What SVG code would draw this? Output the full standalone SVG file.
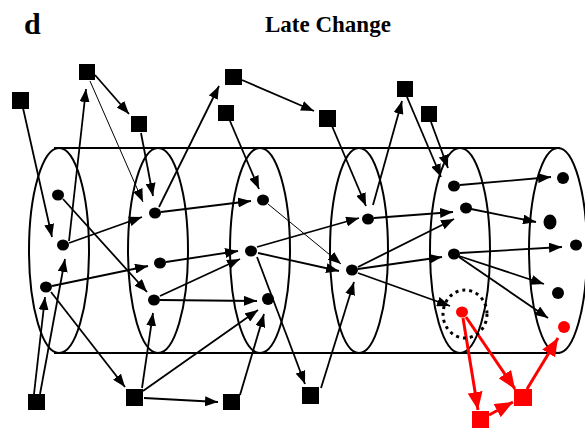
<svg xmlns="http://www.w3.org/2000/svg" width="585" height="432" viewBox="0 0 585 432">
<style>
.t{font-family:"Liberation Serif","Times New Roman",serif;font-weight:bold;fill:#000}
.cyl{fill:none;stroke:#000;stroke-width:2}
.sq{fill:#000}
.rsq{fill:#f00}
.dot{fill:#000}
.rdot{fill:#f00}
.c line{stroke:#000;stroke-width:1.8;marker-end:url(#ah)}
.c line.thin{stroke-width:1}
.c line.red{stroke:#f00;stroke-width:3;marker-end:url(#rah)}
</style>
<defs>
<marker id="ah" markerUnits="userSpaceOnUse" markerWidth="13" markerHeight="10" refX="13" refY="5" orient="auto"><path d="M0,0 L13,5 L0,10 z" fill="#000"/></marker>
<marker id="rah" markerUnits="userSpaceOnUse" markerWidth="18" markerHeight="15" refX="18" refY="7.5" orient="auto"><path d="M0,0 L18,7.5 L0,15 z" fill="#f00"/></marker>
</defs>
<rect width="585" height="432" fill="#fff"/>
<text class="t" x="24" y="34" font-size="30">d</text>
<text class="t" x="265" y="32" font-size="23">Late Change</text>
<g id="cylinder">
<line class="cyl" x1="54" y1="148" x2="560" y2="148"/>
<line class="cyl" x1="54" y1="353" x2="560" y2="353"/>
<ellipse class="cyl" cx="59" cy="250.5" rx="30" ry="102.5"/>
<ellipse class="cyl" cx="158" cy="250.5" rx="30" ry="102.5"/>
<ellipse class="cyl" cx="260" cy="250.5" rx="30" ry="102.5"/>
<ellipse class="cyl" cx="359" cy="250.5" rx="29" ry="102.5"/>
<ellipse class="cyl" cx="460" cy="250.5" rx="30" ry="102.5"/>
<ellipse class="cyl" cx="558" cy="250.5" rx="29" ry="102.5"/>
</g>
<g class="c" id="connectors">
<line x1="23" y1="108" x2="52" y2="237"/>
<line x1="69" y1="241" x2="86" y2="89"/>
<line x1="40" y1="394" x2="65" y2="259"/>
<line x1="34" y1="394" x2="45" y2="297"/>
<line x1="63" y1="199" x2="147" y2="292"/>
<line x1="69" y1="243" x2="142" y2="217"/>
<line x1="52" y1="286" x2="148" y2="266"/>
<line x1="51" y1="292" x2="125" y2="387"/>
<line class="thin" x1="90" y1="81" x2="143" y2="202"/>
<line x1="95" y1="75" x2="129" y2="114"/>
<line x1="141" y1="133" x2="153" y2="196"/>
<line x1="159" y1="207" x2="219" y2="86"/>
<line x1="161" y1="212" x2="251" y2="201"/>
<line x1="166" y1="262" x2="238" y2="251"/>
<line x1="160" y1="296" x2="240" y2="259"/>
<line x1="160" y1="300" x2="257" y2="301"/>
<line x1="142" y1="388" x2="153" y2="313"/>
<line x1="143" y1="391" x2="258" y2="310"/>
<line x1="144" y1="398" x2="218" y2="402"/>
<line x1="240" y1="395" x2="264" y2="314"/>
<line x1="242" y1="80" x2="314" y2="111"/>
<line x1="230" y1="121" x2="259" y2="189"/>
<line class="thin" x1="268" y1="204" x2="341" y2="264"/>
<line x1="257" y1="247" x2="359" y2="218"/>
<line x1="258" y1="253" x2="339" y2="271"/>
<line x1="257" y1="257" x2="305" y2="384"/>
<line x1="321" y1="388" x2="354" y2="282"/>
<line x1="332" y1="126" x2="366" y2="206"/>
<line x1="373" y1="205" x2="402" y2="101"/>
<line x1="407" y1="97" x2="441" y2="177"/>
<line x1="431" y1="122" x2="448" y2="168"/>
<line x1="374" y1="218" x2="453" y2="212"/>
<line x1="358" y1="267" x2="454" y2="219"/>
<line x1="358" y1="269" x2="442" y2="257"/>
<line x1="358" y1="273" x2="450" y2="306"/>
<line x1="460" y1="185" x2="551" y2="177"/>
<line x1="471" y1="209" x2="536" y2="222"/>
<line x1="460" y1="253" x2="562" y2="247"/>
<line x1="459" y1="256" x2="544" y2="284"/>
<line x1="459" y1="257" x2="548" y2="318"/>
<line class="red" x1="463" y1="318" x2="478" y2="410"/>
<line class="red" x1="466" y1="317" x2="515" y2="389"/>
<line class="red" x1="489" y1="415" x2="513" y2="402"/>
<line class="red" x1="527" y1="389" x2="558" y2="338"/>
</g>
<g id="S1"><rect class="sq" x="12" y="92" width="17" height="17"/></g>
<g id="S2"><rect class="sq" x="79" y="64" width="16" height="16"/></g>
<g id="S3"><rect class="sq" x="131" y="116" width="16" height="16"/></g>
<g id="S4"><rect class="sq" x="225" y="69" width="17" height="16"/></g>
<g id="S5"><rect class="sq" x="218" y="105" width="16" height="16"/></g>
<g id="S6"><rect class="sq" x="319" y="110" width="17" height="17"/></g>
<g id="S7"><rect class="sq" x="397" y="81" width="16" height="16"/></g>
<g id="S8"><rect class="sq" x="421" y="106" width="16" height="16"/></g>
<g id="S9"><rect class="sq" x="28" y="394" width="17" height="16"/></g>
<g id="S10"><rect class="sq" x="126" y="389" width="17" height="17"/></g>
<g id="S11"><rect class="sq" x="223" y="394" width="17" height="16"/></g>
<g id="S12"><rect class="sq" x="302" y="387" width="17" height="17"/></g>
<g id="R1"><rect class="rsq" x="514" y="389" width="18" height="17"/></g>
<g id="R2"><rect class="rsq" x="472" y="411" width="17" height="17"/></g>
<g id="E1a"><ellipse class="dot" cx="58" cy="195" rx="6" ry="5.5"/></g>
<g id="E1b"><ellipse class="dot" cx="63" cy="245" rx="6" ry="5.5"/></g>
<g id="E1c"><ellipse class="dot" cx="46" cy="287" rx="6" ry="5.5"/></g>
<g id="E2a"><ellipse class="dot" cx="155" cy="213" rx="6" ry="5.5"/></g>
<g id="E2b"><ellipse class="dot" cx="160" cy="263" rx="6" ry="5.5"/></g>
<g id="E2c"><ellipse class="dot" cx="154" cy="300" rx="6" ry="5.5"/></g>
<g id="E3a"><ellipse class="dot" cx="263" cy="200" rx="6" ry="5.5"/></g>
<g id="E3b"><ellipse class="dot" cx="251" cy="251" rx="6" ry="5.5"/></g>
<g id="E3c"><ellipse class="dot" cx="268" cy="299" rx="6" ry="6"/></g>
<g id="E4a"><ellipse class="dot" cx="368" cy="219" rx="6" ry="5.5"/></g>
<g id="E4b"><ellipse class="dot" cx="352" cy="270" rx="6" ry="5.5"/></g>
<g id="E5a"><ellipse class="dot" cx="454" cy="186" rx="6" ry="5.5"/></g>
<g id="E5b"><ellipse class="dot" cx="466" cy="208" rx="6" ry="5.5"/></g>
<g id="E5c"><ellipse class="dot" cx="454" cy="254" rx="6" ry="5.5"/></g>
<g id="E5red"><ellipse class="rdot" cx="462" cy="312" rx="6" ry="5.5"/><ellipse cx="465" cy="314" rx="22" ry="24" fill="none" stroke="#000" stroke-width="3" stroke-dasharray="3 4"/></g>
<g id="E6a"><ellipse class="dot" cx="563" cy="178" rx="6" ry="6"/></g>
<g id="E6b"><ellipse class="dot" cx="550" cy="222" rx="6.5" ry="7.5"/></g>
<g id="E6c"><ellipse class="dot" cx="576" cy="245" rx="6" ry="5.5"/></g>
<g id="E6d"><ellipse class="dot" cx="558" cy="293" rx="6" ry="6"/></g>
<g id="E6red"><ellipse class="rdot" cx="564" cy="327" rx="6" ry="6"/></g>
</svg>
